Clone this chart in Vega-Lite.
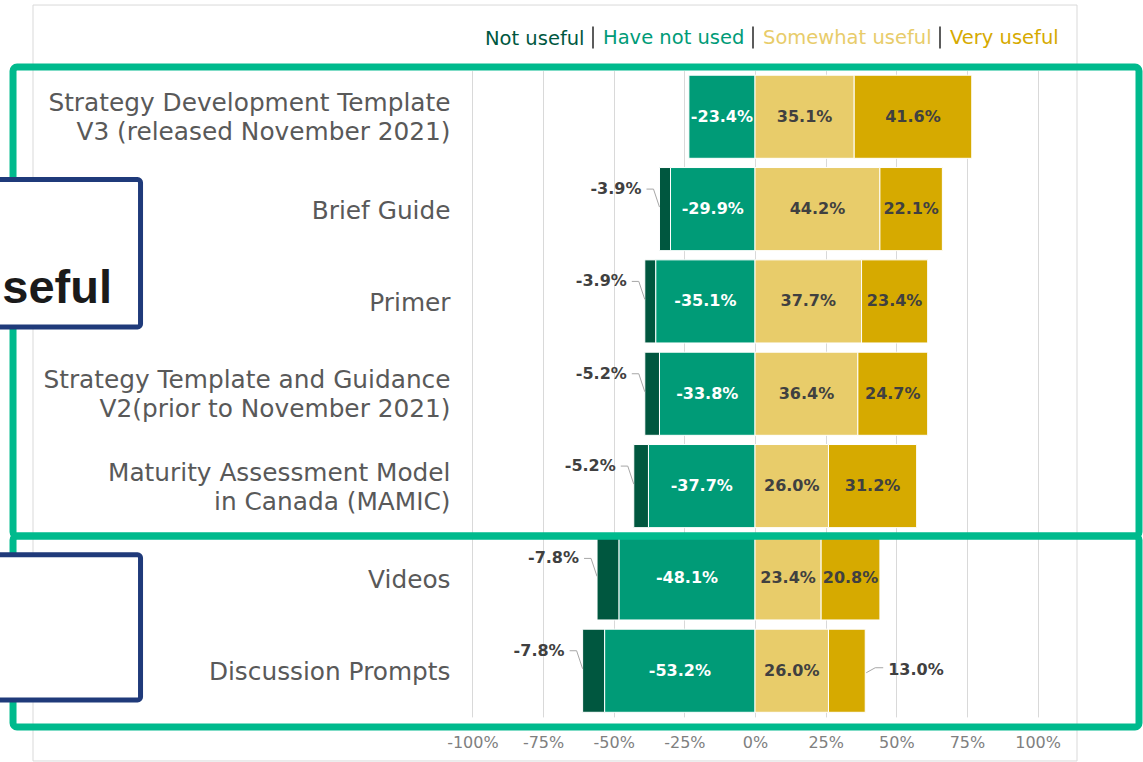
{
  "$schema": "https://vega.github.io/schema/vega-lite/v6.json",
  "autosize": {"type": "none"},
  "padding": {"left": 33, "top": 70.6, "right": 66, "bottom": 45.1},
  "width": 1044,
  "height": 646.3,
  "background": "white",
  "config": {
    "view": {"stroke": null},
    "font": "DejaVu Sans",
    "locale": {"number": {"decimal": ".", "thousands": ",", "grouping": [3], "currency": ["$", ""], "minus": "-"}}
  },
  "datasets": {
    "survey": [
      {"item": "Strategy Development Template\nV3 (released November 2021)", "category": "Have not used", "value": -0.234, "order": 1},
      {"item": "Strategy Development Template\nV3 (released November 2021)", "category": "Somewhat useful", "value": 0.351, "order": 3},
      {"item": "Strategy Development Template\nV3 (released November 2021)", "category": "Very useful", "value": 0.416, "order": 4},
      {"item": "Brief Guide", "category": "Not useful", "value": -0.039, "order": 2},
      {"item": "Brief Guide", "category": "Have not used", "value": -0.299, "order": 1},
      {"item": "Brief Guide", "category": "Somewhat useful", "value": 0.442, "order": 3},
      {"item": "Brief Guide", "category": "Very useful", "value": 0.221, "order": 4},
      {"item": "Primer", "category": "Not useful", "value": -0.039, "order": 2},
      {"item": "Primer", "category": "Have not used", "value": -0.351, "order": 1},
      {"item": "Primer", "category": "Somewhat useful", "value": 0.377, "order": 3},
      {"item": "Primer", "category": "Very useful", "value": 0.234, "order": 4},
      {"item": "Strategy Template and Guidance\nV2(prior to November 2021)", "category": "Not useful", "value": -0.052, "order": 2},
      {"item": "Strategy Template and Guidance\nV2(prior to November 2021)", "category": "Have not used", "value": -0.338, "order": 1},
      {"item": "Strategy Template and Guidance\nV2(prior to November 2021)", "category": "Somewhat useful", "value": 0.364, "order": 3},
      {"item": "Strategy Template and Guidance\nV2(prior to November 2021)", "category": "Very useful", "value": 0.247, "order": 4},
      {"item": "Maturity Assessment Model\nin Canada (MAMIC)", "category": "Not useful", "value": -0.052, "order": 2},
      {"item": "Maturity Assessment Model\nin Canada (MAMIC)", "category": "Have not used", "value": -0.377, "order": 1},
      {"item": "Maturity Assessment Model\nin Canada (MAMIC)", "category": "Somewhat useful", "value": 0.260, "order": 3},
      {"item": "Maturity Assessment Model\nin Canada (MAMIC)", "category": "Very useful", "value": 0.312, "order": 4},
      {"item": "Videos", "category": "Not useful", "value": -0.078, "order": 2},
      {"item": "Videos", "category": "Have not used", "value": -0.481, "order": 1},
      {"item": "Videos", "category": "Somewhat useful", "value": 0.234, "order": 3},
      {"item": "Videos", "category": "Very useful", "value": 0.208, "order": 4},
      {"item": "Discussion Prompts", "category": "Not useful", "value": -0.078, "order": 2},
      {"item": "Discussion Prompts", "category": "Have not used", "value": -0.532, "order": 1},
      {"item": "Discussion Prompts", "category": "Somewhat useful", "value": 0.260, "order": 3},
      {"item": "Discussion Prompts", "category": "Very useful", "value": 0.130, "order": 4}
    ],
    "notes": [
      {"id": 1, "kind": "group", "first": "Strategy Development Template\nV3 (released November 2021)", "last": "Maturity Assessment Model\nin Canada (MAMIC)", "label": ""},
      {"id": 2, "kind": "group", "first": "Videos", "last": "Discussion Prompts", "label": ""},
      {"id": 3, "kind": "callout", "first": "Brief Guide", "last": "Primer", "label": "Most useful"},
      {"id": 4, "kind": "callout", "first": "Videos", "last": "Discussion Prompts", "label": ""}
    ]
  },
  "layer": [
    {
      "data": {"name": "survey"},
      "mark": {"type": "bar", "stroke": "white", "strokeWidth": 1},
      "encoding": {
        "y": {
          "field": "item", "type": "nominal", "title": null,
          "scale": {
            "domain": [
              "Strategy Development Template\nV3 (released November 2021)",
              "Brief Guide",
              "Primer",
              "Strategy Template and Guidance\nV2(prior to November 2021)",
              "Maturity Assessment Model\nin Canada (MAMIC)",
              "Videos",
              "Discussion Prompts"
            ],
            "paddingInner": 0.1, "paddingOuter": 0.05
          },
          "axis": {
            "title": null, "orient": "left", "offset": -417, "domain": false, "ticks": false, "tickSize": 0,
            "labelPadding": 0, "labelFontSize": 24.8, "labelFont": "DejaVu Sans", "labelColor": "#595959",
            "labelLimit": 600, "labelLineHeight": 29, "labelExpr": "split(datum.label, '\\n')", "grid": false,
            "labelOffset": {"condition": {"test": "indexof(datum.value, '\\n') >= 0", "value": -12.5}, "value": 2.5}
          }
        },
        "x": {
          "field": "value", "type": "quantitative", "stack": "zero", "title": null,
          "scale": {"domain": [-2.5549, 1.1394], "nice": false, "zero": false},
          "axis": {
            "title": null, "values": [-1, -0.75, -0.5, -0.25, 0, 0.25, 0.5, 0.75, 1], "format": ".0%",
            "grid": true, "gridColor": "#d9d9d9", "gridWidth": 1, "domain": false, "ticks": false, "tickSize": 0,
            "labelPadding": 18, "labelFontSize": 16, "labelFont": "DejaVu Sans", "labelColor": "#7f7f7f"
          }
        },
        "color": {
          "field": "category", "type": "nominal",
          "scale": {
            "domain": ["Not useful", "Have not used", "Somewhat useful", "Very useful"],
            "range": ["#00573f", "#009b77", "#e8cc6a", "#d6aa00"]
          },
          "legend": {
            "orient": "none", "legendX": 441, "legendY": -45, "direction": "horizontal", "title": null,
            "symbolType": "M-1,-1L-1,1", "symbolSize": 484, "symbolStrokeWidth": 1.5, "symbolStrokeColor": "#262626",
            "symbolFillColor": "transparent", "labelFontSize": 19.5, "labelFont": "DejaVu Sans", "labelOffset": -13,
            "labelLimit": 400, "columnPadding": 5, "padding": 0,
            "encode": {
              "labels": {"update": {"fill": {"scale": "color", "field": "value"}}},
              "symbols": {"update": {
                "stroke": {"value": "#262626"}, "strokeWidth": {"value": 1.5}, "fill": {"value": "transparent"},
                "opacity": {"signal": "datum.index === 0 ? 0 : 1"}
              }}
            }
          }
        },
        "order": {"field": "order", "type": "quantitative"}
      }
    },
    {
      "data": {"values": [{"frame": "chart"}]},
      "mark": {"type": "rect", "filled": false, "stroke": "#d9d9d9", "strokeWidth": 1, "yOffset": -70.2, "y2Offset": 48.7},
      "encoding": {
        "x": {"datum": -2.5549, "type": "quantitative", "title": null},
        "x2": {"datum": 1.1394},
        "y": {"datum": "Strategy Development Template\nV3 (released November 2021)", "type": "nominal", "bandPosition": 0, "title": null},
        "y2": {"datum": "Discussion Prompts", "bandPosition": 1}
      }
    },
    {
      "data": {"name": "survey"},
      "mark": {"type": "text", "font": "DejaVu Sans", "fontSize": 16, "fontWeight": "bold", "baseline": "middle", "align": "center"},
      "encoding": {
        "y": {"field": "item", "type": "nominal", "title": null},
        "x": {"field": "value", "type": "quantitative", "stack": "zero", "bandPosition": 0.5, "title": null},
        "detail": {"field": "category"},
        "order": {"field": "order", "type": "quantitative"},
        "text": {"condition": {"test": "datum.category !== 'Not useful' && abs(datum.value) >= 0.15", "field": "value", "type": "quantitative", "format": ".1%"}, "value": ""},
        "color": {"condition": {"test": "datum.category === 'Have not used'", "value": "#ffffff"}, "value": "#404040"}
      }
    },
    {
      "data": {"name": "survey"},
      "mark": {"type": "text", "font": "DejaVu Sans", "fontSize": 16, "fontWeight": "bold", "baseline": "middle", "align": "right", "dx": -18, "dy": -20, "color": "#404040"},
      "encoding": {
        "y": {"field": "item", "type": "nominal", "title": null},
        "x": {"field": "value", "type": "quantitative", "stack": "zero", "title": null},
        "detail": {"field": "category"},
        "order": {"field": "order", "type": "quantitative"},
        "text": {"condition": {"test": "datum.category === 'Not useful'", "field": "value", "type": "quantitative", "format": ".1%"}, "value": ""}
      }
    },
    {
      "data": {"name": "survey"},
      "mark": {"type": "text", "font": "DejaVu Sans", "fontSize": 16, "fontWeight": "bold", "baseline": "middle", "align": "left", "dx": 23, "dy": -1, "color": "#404040"},
      "encoding": {
        "y": {"field": "item", "type": "nominal", "title": null},
        "x": {"field": "value", "type": "quantitative", "stack": "zero", "title": null},
        "detail": {"field": "category"},
        "order": {"field": "order", "type": "quantitative"},
        "text": {"condition": {"test": "datum.category === 'Very useful' && datum.value < 0.15", "field": "value", "type": "quantitative", "format": ".1%"}, "value": ""}
      }
    },
    {
      "data": {"name": "survey"},
      "transform": [
        {"stack": "value", "groupby": ["item"], "sort": [{"field": "order"}], "as": ["s0", "s1"], "offset": "zero"},
        {"filter": "datum.category === 'Not useful'"}
      ],
      "layer": [
        {
          "mark": {"type": "rule", "color": "#a6a6a6", "strokeWidth": 1, "x2Offset": -6, "yOffset": -2, "y2Offset": -20},
          "encoding": {
            "x": {"field": "s1", "type": "quantitative", "title": null},
            "x2": {"field": "s1"},
            "y": {"field": "item", "type": "nominal", "title": null},
            "y2": {"field": "item"}
          }
        },
        {
          "mark": {"type": "rule", "color": "#a6a6a6", "strokeWidth": 1, "xOffset": -6, "x2Offset": -13, "yOffset": -20, "y2Offset": -20},
          "encoding": {
            "x": {"field": "s1", "type": "quantitative", "title": null},
            "x2": {"field": "s1"},
            "y": {"field": "item", "type": "nominal", "title": null},
            "y2": {"field": "item"}
          }
        }
      ]
    },
    {
      "data": {"name": "survey"},
      "transform": [
        {"stack": "value", "groupby": ["item"], "sort": [{"field": "order"}], "as": ["s0", "s1"], "offset": "zero"},
        {"filter": "datum.category === 'Very useful' && datum.value < 0.15"}
      ],
      "layer": [
        {
          "mark": {"type": "rule", "color": "#a6a6a6", "strokeWidth": 1, "xOffset": 1, "x2Offset": 10, "yOffset": 2, "y2Offset": -3},
          "encoding": {
            "x": {"field": "s1", "type": "quantitative", "title": null},
            "x2": {"field": "s1"},
            "y": {"field": "item", "type": "nominal", "title": null},
            "y2": {"field": "item"}
          }
        },
        {
          "mark": {"type": "rule", "color": "#a6a6a6", "strokeWidth": 1, "xOffset": 10, "x2Offset": 18, "yOffset": -3, "y2Offset": -3},
          "encoding": {
            "x": {"field": "s1", "type": "quantitative", "title": null},
            "x2": {"field": "s1"},
            "y": {"field": "item", "type": "nominal", "title": null},
            "y2": {"field": "item"}
          }
        }
      ]
    },
    {
      "data": {"name": "notes"},
      "transform": [{"filter": "datum.id === 1"}],
      "mark": {"type": "rect", "filled": false, "stroke": "#00ba8d", "strokeWidth": 7, "cornerRadius": 4, "yOffset": -8.2, "y2Offset": 8.4},
      "encoding": {
        "x": {"datum": -2.6256, "type": "quantitative", "title": null},
        "x2": {"datum": 1.3588},
        "y": {"field": "first", "type": "nominal", "bandPosition": 0, "title": null},
        "y2": {"field": "last", "bandPosition": 1}
      }
    },
    {
      "data": {"name": "notes"},
      "transform": [{"filter": "datum.id === 2"}],
      "mark": {"type": "rect", "filled": false, "stroke": "#00ba8d", "strokeWidth": 7, "cornerRadius": 4, "yOffset": -0.9, "y2Offset": 14.7},
      "encoding": {
        "x": {"datum": -2.6256, "type": "quantitative", "title": null},
        "x2": {"datum": 1.3588},
        "y": {"field": "first", "type": "nominal", "bandPosition": 0, "title": null},
        "y2": {"field": "last", "bandPosition": 1}
      }
    },
    {
      "data": {"name": "notes"},
      "transform": [{"filter": "datum.id === 3"}],
      "mark": {"type": "rect", "fill": "#ffffff", "stroke": "#1f3a7a", "strokeWidth": 5, "cornerRadius": 3, "yOffset": 12, "y2Offset": -16},
      "encoding": {
        "x": {"datum": -2.72, "type": "quantitative", "title": null},
        "x2": {"datum": -2.1744},
        "y": {"field": "first", "type": "nominal", "bandPosition": 0, "title": null},
        "y2": {"field": "last", "bandPosition": 1}
      }
    },
    {
      "data": {"name": "notes"},
      "transform": [{"filter": "datum.id === 4"}],
      "mark": {"type": "rect", "fill": "#ffffff", "stroke": "#1f3a7a", "strokeWidth": 5, "cornerRadius": 3, "yOffset": 18, "y2Offset": -12.3},
      "encoding": {
        "x": {"datum": -2.72, "type": "quantitative", "title": null},
        "x2": {"datum": -2.1744},
        "y": {"field": "first", "type": "nominal", "bandPosition": 0, "title": null},
        "y2": {"field": "last", "bandPosition": 1}
      }
    },
    {
      "data": {"name": "notes"},
      "transform": [{"filter": "datum.id === 3"}],
      "mark": {"type": "text", "font": "Liberation Sans", "fontSize": 47, "fontWeight": "bold", "align": "right", "baseline": "alphabetic", "dy": 43, "color": "#1a1a1a"},
      "encoding": {
        "x": {"datum": -2.2753, "type": "quantitative", "title": null},
        "y": {"field": "last", "type": "nominal", "bandPosition": 0, "title": null},
        "text": {"field": "label"}
      }
    }
  ]
}
